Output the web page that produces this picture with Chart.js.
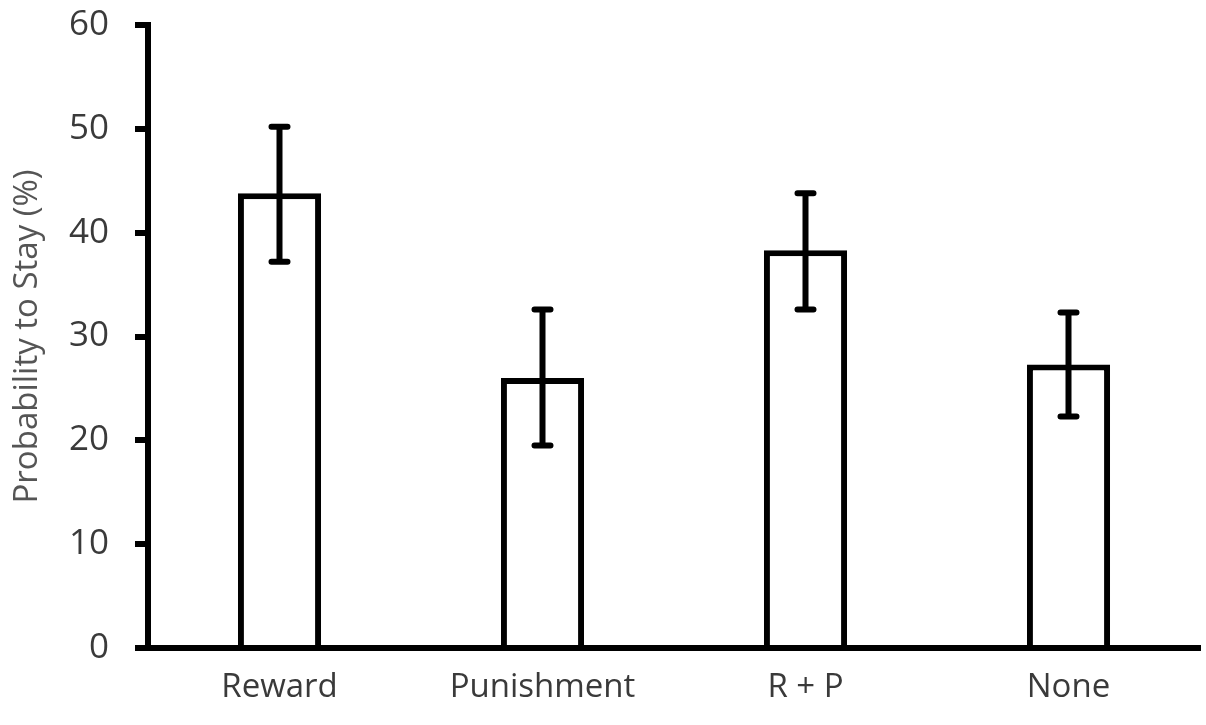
<!DOCTYPE html>
<html>
<head>
<meta charset="utf-8">
<script src="https://cdn.jsdelivr.net/npm/chart.js@4.4.0/dist/chart.umd.min.js"></script>
<style>
  html, body { margin: 0; padding: 0; background: #fff; }
  #wrap { width: 1206px; height: 725px; }
</style>
</head>
<body>
<div id="wrap"><canvas id="chart" width="1206" height="725"></canvas></div>
<script>
const categories = ['Reward', 'Punishment', 'R + P', 'None'];
const stayProb = [43.8, 26.0, 38.3, 27.3];
const errHigh = [50.2, 32.6, 43.8, 32.3];
const errLow = [37.2, 19.5, 32.6, 22.3];
const yTicks = [0, 10, 20, 30, 40, 50, 60];

const FONT = "'Open Sans', sans-serif";

// error bars drawn from the y scale
const errorBars = {
    id: 'errorBars',
    afterDatasetsDraw(chart) {
        const ctx = chart.ctx;
        const y = chart.scales.y;
        const meta = chart.getDatasetMeta(0);
        ctx.save();
        ctx.strokeStyle = '#000';
        ctx.lineWidth = 6;
        ctx.lineCap = 'round';
        meta.data.forEach((bar, i) => {
            const x = bar.x;
            const top = y.getPixelForValue(errHigh[i]);
            const bot = y.getPixelForValue(errLow[i]);
            ctx.beginPath();
            ctx.moveTo(x, top); ctx.lineTo(x, bot);
            ctx.moveTo(x - 8, top); ctx.lineTo(x + 8, top);
            ctx.moveTo(x - 8, bot); ctx.lineTo(x + 8, bot);
            ctx.stroke();
        });
        ctx.restore();
    }
};

new Chart(document.getElementById('chart').getContext('2d'), {
    type: 'bar',
    data: {
        labels: categories,
        datasets: [{
            data: stayProb,
            backgroundColor: '#fff',
            borderColor: '#000',
            borderWidth: 6,
            borderSkipped: 'bottom',
            categoryPercentage: 1,
            barPercentage: 0.316
        }]
    },
    options: {
        responsive: false,
        animation: false,
        layout: { padding: { left: 0, right: 6, top: 25, bottom: 0 } },
        plugins: { legend: { display: false }, tooltip: { enabled: false } },
        scales: {
            x: {
                grid: { display: false, drawTicks: false },
                border: { color: '#000', width: 6 },
                ticks: { color: '#3a3a3a', font: { family: FONT, size: 33 }, padding: 20 },
                afterFit: s => { s.height = 77; }
            },
            y: {
                min: 0, max: 60,
                afterBuildTicks: s => { s.ticks = yTicks.map(v => ({ value: v })); },
                grid: { drawOnChartArea: false, color: '#000', lineWidth: 6, tickLength: 13 },
                border: { color: '#000', width: 6 },
                ticks: { color: '#3a3a3a', font: { family: FONT, size: 35 }, padding: 26 },
                title: {
                    display: true,
                    text: 'Probability to Stay (%)',
                    color: '#555',
                    font: { family: FONT, size: 33 },
                    padding: { top: 8, bottom: 0 }
                },
                afterFit: s => { s.width = 148; s.paddingTop = 0; s.paddingBottom = 0; }
            }
        }
    },
    plugins: [errorBars]
});
</script>
</body>
</html>
